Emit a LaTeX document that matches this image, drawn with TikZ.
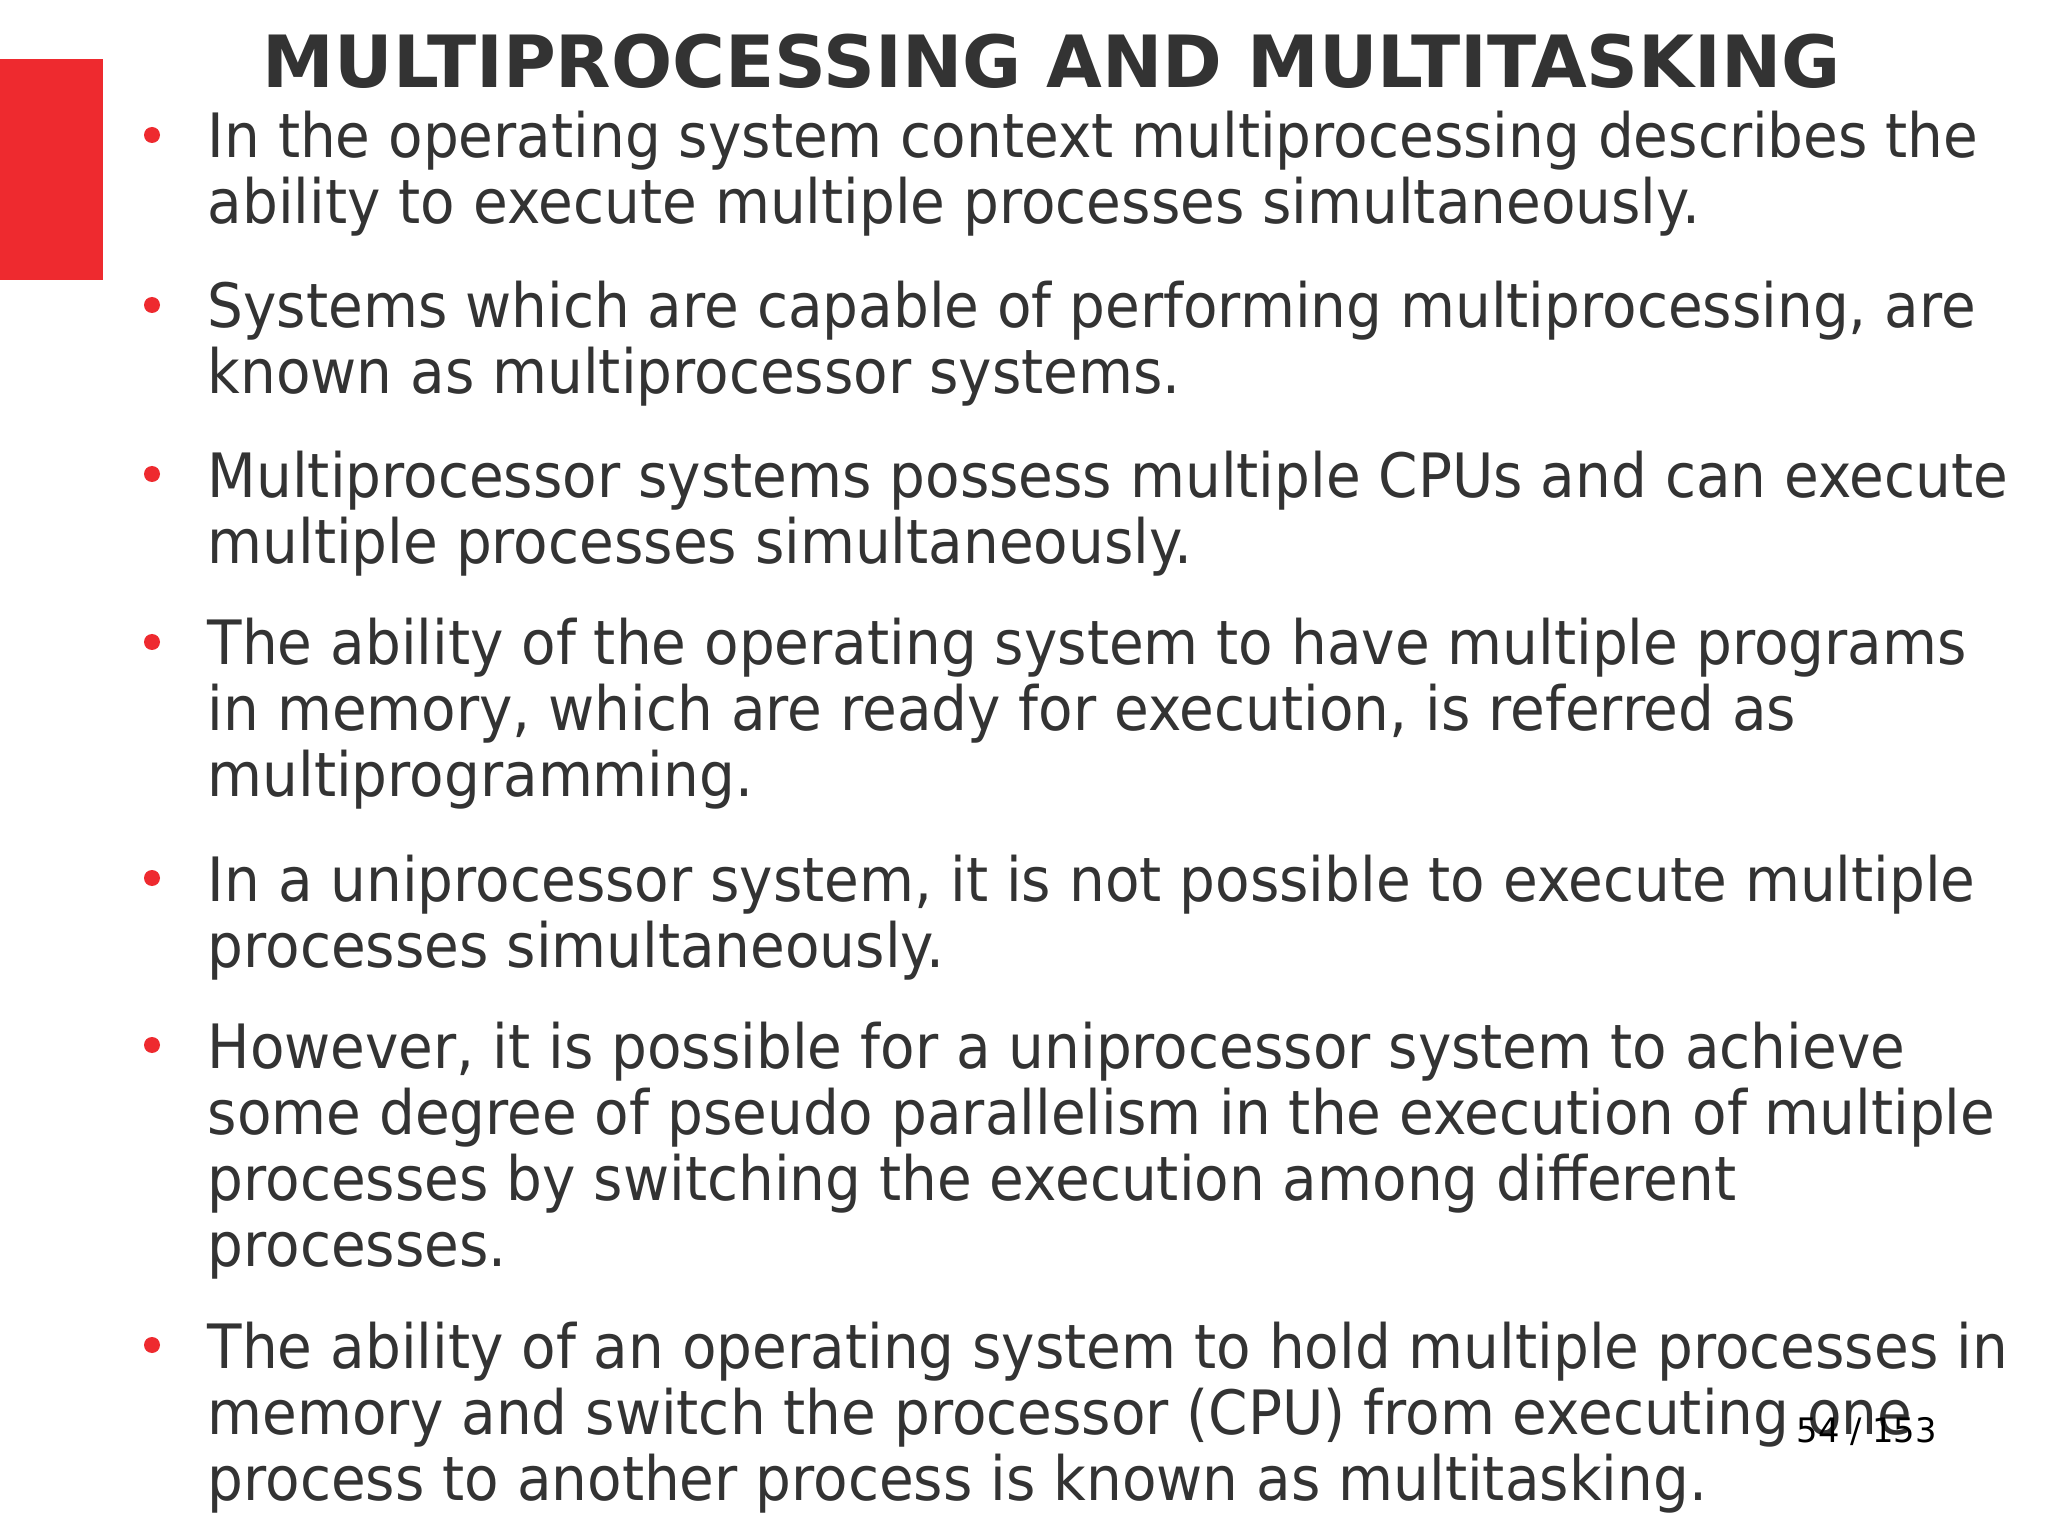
\documentclass[tikz,border=0pt]{standalone}
\usepackage{fontspec}
\setmainfont{DejaVu Sans}
\newfontfamily\condf[FakeStretch=0.923]{DejaVu Sans}
\definecolor{txt}{HTML}{333333}
\definecolor{redb}{HTML}{EE2A2F}
\tikzset{ln/.style={anchor=base west,inner sep=0pt,text=txt,font=\condf\fontsize{17.4}{20}\selectfont},
 bul/.style={circle,fill=redb,inner sep=0pt,minimum size=0.16cm}}
\begin{document}
\begin{tikzpicture}
\useasboundingbox[fill=white] (0,0) rectangle (20.48,-15.36);
\fill[redb] (0,-0.59) rectangle (1.03,-2.80);
\node[anchor=base,inner sep=0pt,text=txt,font=\fontsize{20.5}{24}\bfseries\selectfont] (title) at (10.52,-0.88) {MULTIPROCESSING AND MULTITASKING};
\foreach \y/\t [count=\i] in {
1.58/{In the operating system context multiprocessing describes the},
2.24/{ability to execute multiple processes simultaneously.},
3.28/{Systems which are capable of performing multiprocessing, are},
3.94/{known as multiprocessor systems.},
4.97/{Multiprocessor systems possess multiple CPUs and can execute},
5.63/{multiple processes simultaneously.},
6.65/{The ability of the operating system to have multiple programs},
7.31/{in memory, which are ready for execution, is referred as},
7.97/{multiprogramming.},
9.01/{In a uniprocessor system, it is not possible to execute multiple},
9.67/{processes simultaneously.},
10.68/{However, it is possible for a uniprocessor system to achieve},
11.34/{some degree of pseudo parallelism in the execution of multiple},
12.00/{processes by switching the execution among different},
12.66/{processes.},
13.68/{The ability of an operating system to hold multiple processes in},
14.34/{memory and switch the processor (CPU) from executing one},
15.00/{process to another process is known as multitasking.}}
 \node[ln] (l\i) at (2.07,-\y) {\t};
\foreach \y [count=\i] in {1.58,3.28,4.97,6.65,9.01,10.68,13.68}
 \node[bul] (b\i) at (1.52,-\y+0.23) {};
\node[anchor=base west,inner sep=0pt,text=black,font=\fontsize{9.6}{11}\selectfont] (pg) at (17.96,-14.42) {54 / 153};
\end{tikzpicture}
\end{document}
